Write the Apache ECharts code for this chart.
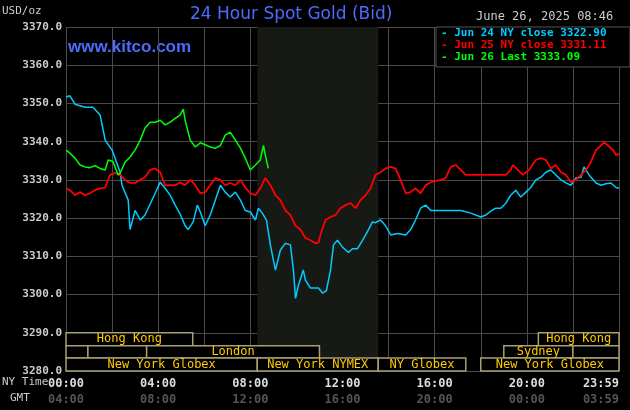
<!DOCTYPE html>
<html><head><meta charset="utf-8">
<script src="https://cdn.jsdelivr.net/npm/echarts@6/dist/echarts.min.js"></script>
<style>html,body{margin:0;padding:0;background:#000}#c{width:630px;height:410px}</style>
</head><body><div id="c"></div>
<script>
const jun24 = [[0,3351.7],[0.17,3352],[0.39,3349.8],[0.83,3349],[1.17,3349],[1.48,3347],[1.7,3340.4],[2,3337.8],[2.35,3332],[2.43,3328.6],[2.7,3324.7],[2.78,3317],[3,3322],[3.22,3319.5],[3.43,3320.8],[3.87,3326.5],[4.09,3329.4],[4.3,3327.8],[4.52,3326],[4.74,3323.4],[4.96,3321],[5.17,3318],[5.3,3317],[5.52,3319],[5.7,3323.4],[5.83,3321.6],[6.04,3318],[6.26,3320.8],[6.48,3324.7],[6.7,3328.6],[6.91,3326.8],[7.13,3325.5],[7.35,3326.8],[7.57,3324.7],[7.78,3322],[8,3321.6],[8.22,3319.5],[8.35,3322.6],[8.52,3321.3],[8.7,3319.5],[8.87,3313],[9,3309],[9.09,3306.4],[9.3,3311.6],[9.52,3313.4],[9.74,3313],[9.87,3306.4],[9.96,3299],[10.09,3302.5],[10.3,3306.4],[10.39,3303.8],[10.61,3301.7],[10.96,3301.7],[11.13,3300.4],[11.3,3301],[11.48,3306.4],[11.61,3313],[11.78,3314.2],[12,3312.4],[12.26,3311],[12.43,3312],[12.65,3312],[12.87,3314.2],[13.13,3317],[13.3,3319],[13.43,3318.8],[13.65,3319.5],[13.87,3318],[14.09,3315.6],[14.39,3316],[14.74,3315.6],[14.96,3317],[15.17,3319.5],[15.39,3322.6],[15.61,3323.4],[15.83,3322],[16.26,3322],[17.13,3322],[17.57,3321.3],[18,3320.3],[18.22,3320.8],[18.43,3321.8],[18.65,3322.6],[18.87,3322.6],[19.09,3323.9],[19.3,3326],[19.52,3327.3],[19.74,3325.5],[19.96,3326.8],[20.17,3328],[20.39,3330],[20.61,3330.7],[20.83,3332],[21.04,3332.6],[21.26,3331.3],[21.48,3330],[21.7,3329.2],[21.91,3328.6],[22.13,3330.5],[22.35,3330.7],[22.48,3333.4],[22.7,3331.3],[23,3329.2],[23.22,3328.6],[23.43,3329],[23.65,3329.2],[23.87,3328],[24,3327.8]];
const jun25 = [[0,3327.8],[0.17,3327.3],[0.39,3326],[0.61,3326.8],[0.83,3326],[1.04,3326.5],[1.26,3327.3],[1.48,3327.8],[1.7,3328],[1.91,3331.3],[2.13,3331.8],[2.35,3331.3],[2.57,3330],[2.78,3329.2],[3,3329.2],[3.22,3330],[3.43,3330.7],[3.65,3332.6],[3.87,3333],[4.09,3332],[4.3,3328.6],[4.74,3328.6],[4.96,3329.4],[5.17,3328.6],[5.39,3330],[5.61,3328.6],[5.83,3326.5],[6.04,3326.8],[6.26,3328.6],[6.48,3330.5],[6.7,3330],[6.91,3328.6],[7.13,3329.2],[7.35,3328.6],[7.57,3330],[7.78,3328],[8,3326.5],[8.22,3326],[8.43,3327.8],[8.65,3330.5],[8.87,3328.6],[9.09,3326],[9.3,3324.7],[9.52,3322],[9.74,3320.8],[9.96,3318],[10.17,3317],[10.39,3314.8],[10.61,3314.2],[10.83,3313.4],[10.96,3313.6],[11.04,3315.6],[11.26,3319.5],[11.48,3320.3],[11.7,3320.8],[11.91,3322.6],[12.13,3323.4],[12.35,3323.9],[12.57,3322.6],[12.78,3324.7],[13,3326],[13.22,3327.8],[13.43,3331.3],[13.65,3332],[13.87,3333],[14.09,3333.4],[14.3,3333],[14.52,3330],[14.74,3326.5],[14.96,3326.8],[15.17,3327.8],[15.39,3326.5],[15.61,3328.6],[15.83,3329.4],[16.26,3330],[16.48,3330.5],[16.7,3333.4],[16.91,3333.9],[17.13,3332.6],[17.35,3331.3],[18.39,3331.3],[19.09,3331.3],[19.3,3332.6],[19.39,3333.9],[19.61,3332.6],[19.83,3331.3],[19.96,3332],[20.09,3332.6],[20.39,3335.2],[20.61,3335.7],[20.83,3335.2],[21.04,3333],[21.26,3333.9],[21.48,3332],[21.7,3331.3],[21.91,3329.4],[22.13,3330],[22.35,3331.3],[22.57,3332.6],[22.78,3334.7],[23,3337.8],[23.22,3339],[23.35,3339.9],[23.52,3339],[23.74,3337.8],[23.87,3336.5],[24,3336.8]];
const jun26 = [[0,3337.8],[0.17,3337],[0.39,3335.7],[0.61,3333.9],[0.83,3333.4],[1.04,3333.2],[1.26,3333.7],[1.48,3333],[1.7,3332.6],[1.83,3335.2],[2.04,3334.8],[2.26,3331.3],[2.35,3331.8],[2.57,3334.7],[2.78,3336],[3,3337.8],[3.22,3340.4],[3.43,3343.6],[3.65,3345.1],[3.87,3345.1],[4.09,3345.6],[4.3,3344.4],[4.52,3345.1],[4.74,3346.1],[4.96,3347],[5.09,3348.5],[5.17,3345.6],[5.39,3340.4],[5.61,3338.6],[5.83,3339.7],[6.04,3339.2],[6.26,3338.6],[6.48,3338.3],[6.7,3339],[6.91,3341.7],[7.13,3342.5],[7.35,3340.4],[7.57,3338.3],[7.78,3335.7],[8,3332.6],[8.22,3333.9],[8.43,3335.2],[8.57,3339],[8.65,3336.5],[8.78,3333]];
const sessions = [
  [0,0,5.5,'Hong Kong'],[0,20.5,24,'Hong Kong'],
  [1,0,0.95,''],[1,0.95,3.5,''],[1,3.5,11,'London'],[1,19,22,'Sydney'],[1,22,24,''],
  [2,0,8.3,'New York Globex'],[2,8.3,13.55,'New York NYMEX'],[2,13.55,17.35,'NY Globex'],[2,18,24,'New York Globex']
];
const rowTops = [3290,3286.6,3283.4];
const rowBots = [3286.6,3283.4,3280];
const nyLabels = {0:'00:00',4:'04:00',8:'08:00',12:'12:00',16:'16:00',20:'20:00',24:'23:59'};
const gmtLabels = {0:'04:00',4:'08:00',8:'12:00',12:'16:00',16:'20:00',20:'00:00',24:'03:59'};
const mono = 'DejaVu Sans Mono';
const chart = echarts.init(document.getElementById('c'));
chart.setOption({
  backgroundColor:'#000',
  animation:false,
  grid:{left:66,right:11,top:27,bottom:39,outerBoundsMode:'none',containLabel:false},
  xAxis:{type:'value',min:0,max:24,interval:2,
    axisLine:{show:false},axisTick:{show:false},
    splitLine:{lineStyle:{color:'#4a4a4a',width:1}},
    axisLabel:{margin:5,formatter:v=>nyLabels[v]!==undefined?'{a|'+nyLabels[v]+'}\n{b|'+gmtLabels[v]+'}':'',
      rich:{a:{color:'#ddd',fontFamily:mono,fontWeight:'bold',fontSize:12,lineHeight:16},b:{color:'#555',fontFamily:mono,fontWeight:'bold',fontSize:12,lineHeight:16}},
      showMaxLabel:true,alignMaxLabel:'right'}},
  yAxis:{type:'value',min:3280,max:3370,interval:10,
    axisLine:{show:false},axisTick:{show:false},
    splitLine:{lineStyle:{color:'#4a4a4a',width:1}},
    axisLabel:{color:'#ccc',fontFamily:mono,fontWeight:'bold',fontSize:11,margin:4,formatter:v=>v.toFixed(1)}},
  graphic:[
    {type:'text',left:190,top:6,style:{text:'24 Hour Spot Gold (Bid)',fill:'#4d6bff',font:'17px "DejaVu Sans"'}},
    {type:'text',left:68,top:39,style:{text:'www.kitco.com',fill:'#4d6bff',font:'bold 17px "Liberation Sans"'}},
    {type:'text',left:2,top:6,style:{text:'USD/oz',fill:'#ccc',font:'11px "DejaVu Sans Mono"'}},
    {type:'text',left:476,top:11,style:{text:'June 26, 2025 08:46',fill:'#ccc',font:'12px "DejaVu Sans Mono"'}},
    {type:'rect',z:100,shape:{x:436,y:27,width:194,height:40},style:{fill:'#000',stroke:'#555'}},
    {type:'text',z:101,left:441,top:28,style:{text:'- Jun 24 NY close 3322.90',fill:'#00ccff',font:'bold 11px "DejaVu Sans Mono"'}},
    {type:'text',z:101,left:441,top:40,style:{text:'- Jun 25 NY close 3331.11',fill:'#ff0000',font:'bold 11px "DejaVu Sans Mono"'}},
    {type:'text',z:101,left:441,top:52,style:{text:'- Jun 26 Last 3333.09',fill:'#00ff00',font:'bold 11px "DejaVu Sans Mono"'}},
    {type:'text',left:2,top:377,style:{text:'NY Time',fill:'#ccc',font:'11px "DejaVu Sans Mono"'}},
    {type:'text',left:10,top:393,style:{text:'GMT',fill:'#ccc',font:'11px "DejaVu Sans Mono"'}}
  ],
  series:[
    {type:'line',data:[],markArea:{silent:true,itemStyle:{color:'#171915'},data:[[{xAxis:8.3},{xAxis:13.55}]]}},
    {type:'custom',z:1,data:sessions,renderItem:(p,api)=>{
      const r=api.value(0),s=api.value(1),e=api.value(2);
      const d=sessions[p.dataIndex];
      const a=api.coord([s,rowTops[r]]),b=api.coord([e,rowBots[r]]);
      return {type:'group',children:[
        {type:'rect',shape:{x:a[0],y:a[1],width:b[0]-a[0],height:b[1]-a[1]},style:{fill:'#000',stroke:'#a8a070',lineWidth:1.5}},
        {type:'text',style:{text:d[3],x:(a[0]+b[0])/2,y:(a[1]+b[1])/2,align:'center',verticalAlign:'middle',fill:'#ffcc00',font:'12px "DejaVu Sans Mono"'}}
      ]};
    }},
    {type:'line',data:jun24,showSymbol:false,lineStyle:{color:'#00ccff',width:1.5},z:3},
    {type:'line',data:jun25,showSymbol:false,lineStyle:{color:'#ff0000',width:1.8},z:3},
    {type:'line',data:jun26,showSymbol:false,lineStyle:{color:'#00ff00',width:1.5},z:3}
  ]
});
</script></body></html>
